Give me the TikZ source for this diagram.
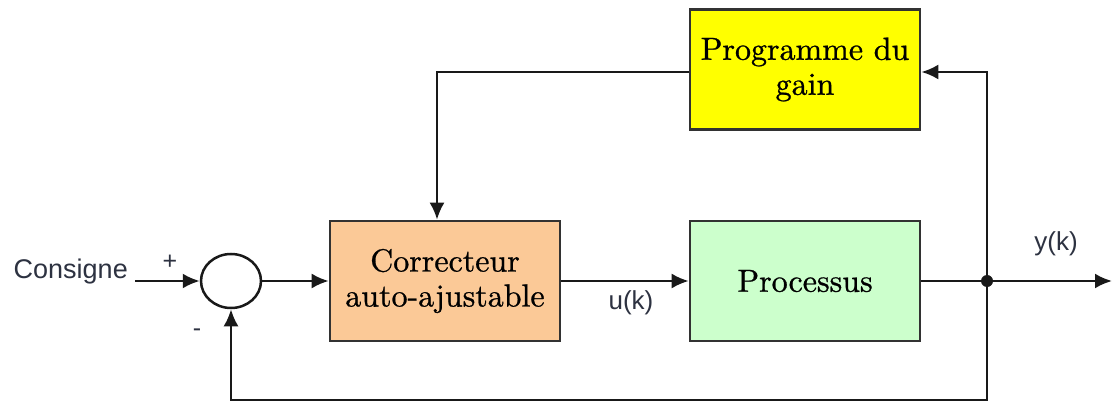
\documentclass[tikz,border=0pt]{standalone}
\usepackage{fontspec}
\newfontfamily\labfont{Liberation Sans}
\newfontfamily\boxfont{lmroman10-regular.otf}[FakeBold=0.8]
\usetikzlibrary{arrows.meta,shapes.geometric}
\definecolor{orangebox}{RGB}{251,201,151}
\definecolor{greenbox}{RGB}{204,255,204}
\definecolor{yellowbox}{RGB}{255,255,0}
\definecolor{linecol}{RGB}{25,25,25}
\definecolor{boxline}{RGB}{50,50,50}
\definecolor{labcol}{RGB}{45,50,65}
\begin{document}
\begin{tikzpicture}[x=1pt,y=-1pt,
  blk/.style={draw=boxline,line width=2.6pt,minimum width=230pt,minimum height=120pt,
    align=center,inner sep=0pt,font=\boxfont\fontsize{32}{35}\selectfont},
  conn/.style={draw=linecol,line width=2.5pt,-{Latex[length=17pt,width=15pt]}},
  wire/.style={draw=linecol,line width=2.5pt},
  lbl/.style={font=\labfont\fontsize{26}{28}\selectfont,text=labcol,inner sep=0pt},
  sgn/.style={font=\labfont\fontsize{25}{26}\selectfont,text=labcol,inner sep=0pt}]
\useasboundingbox (0,0) rectangle (1115,403);
\node[blk,fill=yellowbox] (gain) at (805,69.5) {Programme du\\gain};
\node[blk,fill=orangebox] (corr) at (445,281) {Correcteur\\auto-ajustable};
\node[blk,fill=greenbox] (proc) at (805,281) {Processus};
\node[ellipse,draw=linecol,line width=2.5pt,minimum width=60pt,minimum height=54pt,inner sep=0pt] (sum) at (231,281) {};
\node[lbl,font=\labfont\fontsize{27}{28}\selectfont,anchor=east] (cons) at (128,272) {Consigne};
\coordinate (in) at (135,281);
\node[sgn] (plus) at (170,262) {+};
\node[sgn] (minus) at (197,333) {-};
\coordinate (j) at (987,281);
\coordinate (out) at (1112,281);
\node[lbl] (yk) at (1056,244) {y(k)};
\node[lbl] (uk) at (631,303) {u(k)};
\coordinate (c1) at (987,400);
\coordinate (c2) at (231,400);
\coordinate (t1) at (987,72);
\coordinate (t2) at (437,72);
\draw[conn] (in) -- (sum);
\draw[conn] (sum) -- (corr);
\draw[conn] (corr) -- (proc);
\draw[wire] (proc) -- (j);
\draw[conn] (j) -- (out);
\draw[conn] (j) -- (c1) -- (c2) -- (sum.south);
\draw[conn] (j) -- (t1) -- (gain.east |- t1);
\draw[conn] (gain.west |- t1) -- (t2) -- (t2 |- corr.north);
\fill[linecol] (j) circle (6pt);
\end{tikzpicture}
\end{document}
